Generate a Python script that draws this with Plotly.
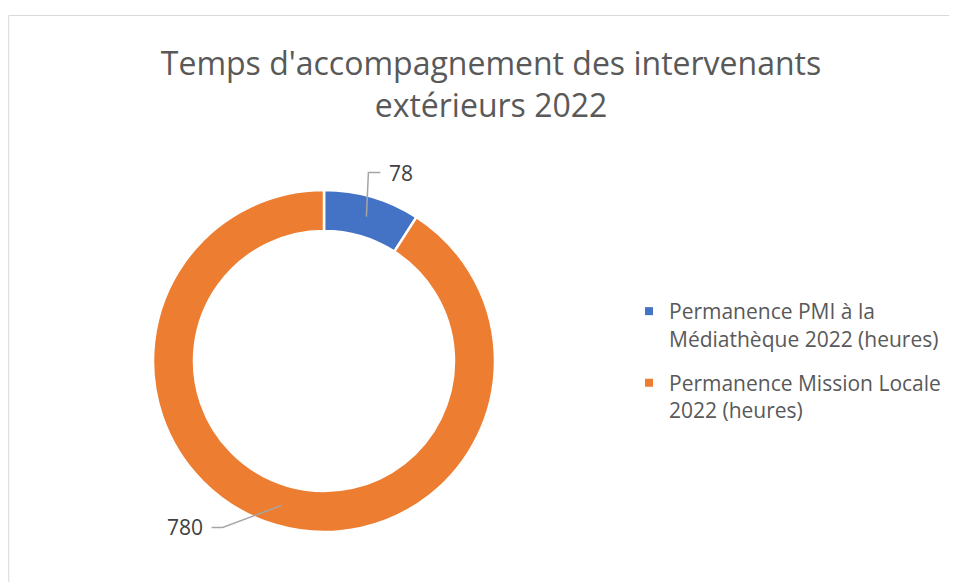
import math
import plotly.graph_objects as go

# data
labels = ["Permanence PMI à la<br>Médiathèque 2022 (heures)",
          "Permanence Mission Locale<br>2022 (heures)"]
values = [78, 780]
colors = ["#4472C4", "#ED7D31"]

W, H = 957, 582
OFF = 8  # page body margin
CX, CY, R_OUT, R_IN = 324, 361, 171, 130

def px_x(x):
    return (x - OFF) / W

def px_y(y):
    return 1 - (y - OFF) / H

fig = go.Figure(go.Pie(
    labels=labels,
    values=values,
    hole=R_IN / R_OUT,
    sort=False,
    direction="clockwise",
    rotation=0,
    marker=dict(colors=colors, line=dict(color="white", width=2.5)),
    textinfo="none",
    hoverinfo="label+value",
    showlegend=False,
    domain=dict(x=[px_x(CX - R_OUT), px_x(CX + R_OUT)],
                y=[px_y(CY + R_OUT), px_y(CY - R_OUT)]),
))

# legend entries (square swatches)
for i, (lab, col) in enumerate(zip(labels, colors)):
    fig.add_trace(go.Scatter(
        x=[None], y=[None], mode="markers", name=lab,
        marker=dict(symbol="square", size=8, color=col),
        legendgroup=f"g{i}", hoverinfo="skip",
    ))

# data labels with elbow leader lines, placed from each slice's mid-angle
elbows = [(2, -44, 12), (-59, 22, -11)]  # (dx to elbow, dy to elbow, horizontal run)
total = sum(values)
start = 0.0
shapes = []
annotations = []
r_mid = (R_OUT + R_IN) / 2
for v, (dx, dy, run) in zip(values, elbows):
    mid = (start + v / 2) / total * 2 * math.pi
    start += v
    x0 = CX + r_mid * math.sin(mid)
    y0 = CY - r_mid * math.cos(mid)
    x1, y1 = x0 + dx, y0 + dy
    x2 = x1 + run
    shapes.append(dict(
        type="path", xref="paper", yref="paper",
        path=f"M {px_x(x0)},{px_y(y0)} L {px_x(x1)},{px_y(y1)} L {px_x(x2)},{px_y(y1)}",
        line=dict(color="#A6A6A6", width=1.5),
    ))
    annotations.append(dict(
        x=px_x(x2 + (7 if run > 0 else -7)), y=px_y(y1), xref="paper", yref="paper",
        text=str(v), showarrow=False,
        xanchor="left" if run > 0 else "right", yanchor="middle",
        font=dict(size=21, color="#404040"),
    ))

# chart border
shapes.append(dict(type="rect", xref="paper", yref="paper",
                   x0=0.0008, y0=px_y(15.5), x1=1.3, y1=-0.3,
                   line=dict(color="#D9D9D9", width=1)))

fig.update_layout(
    width=W, height=H,
    margin=dict(l=0, r=0, t=0, b=0),
    paper_bgcolor="white",
    plot_bgcolor="white",
    font=dict(family="Open Sans, sans-serif", color="#595959"),
    title=dict(text="Temps d'accompagnement des intervenants<br>extérieurs 2022",
               x=px_x(491), xanchor="center", y=px_y(75), yanchor="top",
               font=dict(size=32, color="#595959")),
    xaxis=dict(visible=False),
    yaxis=dict(visible=False),
    legend=dict(x=px_x(629), y=px_y(291), xanchor="left", yanchor="top",
                valign="top",
                font=dict(size=21, color="#595959"),
                tracegroupgap=14),
    showlegend=True,
    shapes=shapes,
    annotations=annotations,
)

fig.write_html("out.html")
